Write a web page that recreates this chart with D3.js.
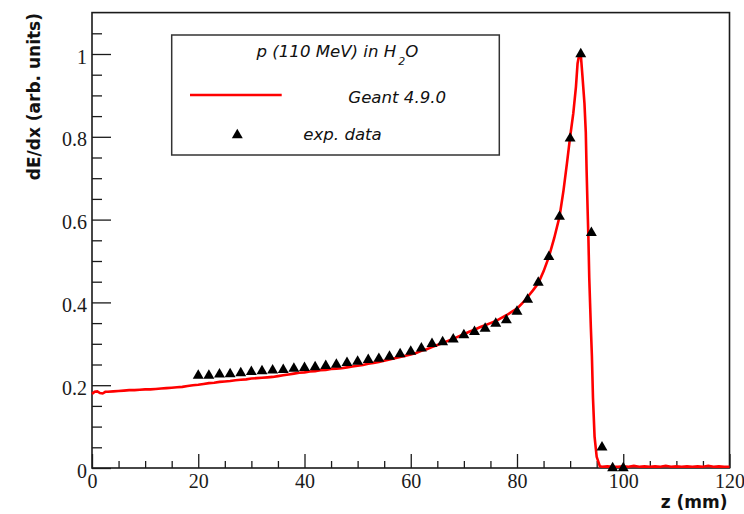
<!DOCTYPE html>
<html>
<head>
<meta charset="utf-8">
<script src="https://cdn.jsdelivr.net/npm/d3@7"></script>
<style>
  html, body { margin: 0; padding: 0; background: #fff; }
  svg { display: block; }
  .tick-label { font-family: "Liberation Serif", "Times New Roman", serif; }
</style>
</head>
<body>
<svg id="chart" width="744" height="514"></svg>
<script>
// Geant 4.9.0 simulated depth-dose profile (z in mm, dE/dx normalised)
const simZ = [
  0, 0.5, 1, 1.5, 2, 2.5, 3, 4, 5, 6, 7, 8, 9, 10, 11, 12, 13, 14, 15, 16, 17, 18, 19,
  20, 21, 22, 23, 24, 25, 26, 27, 28, 29, 30, 31, 32, 33, 34, 35, 36, 37, 38, 39,
  40, 41, 42, 43, 44, 45, 46, 47, 48, 49, 50, 51, 52, 53, 54, 55, 56, 57, 58, 59,
  60, 61, 62, 63, 64, 65, 66, 67, 68, 69, 70, 71, 72, 73, 74, 75, 76, 77, 78, 79,
  80, 81, 82, 83, 84, 85, 86, 87, 88, 88.75, 89.4, 90, 90.6, 91.1, 91.4, 91.7, 92,
  92.3, 92.7, 92.95, 93.1, 93.3, 93.45, 93.6, 93.9, 94.1, 94.3, 94.6, 95, 95.6,
  96, 97, 98, 99, 100, 101, 102, 103, 104, 105, 106, 107, 108, 109, 110,
  111, 112, 113, 114, 115, 116, 117, 118, 119, 120
];
const simDose = [
  0.179, 0.184, 0.185, 0.181, 0.180, 0.184, 0.184, 0.185, 0.186, 0.187, 0.188, 0.188, 0.189, 0.190, 0.190, 0.191, 0.192, 0.193, 0.194, 0.195, 0.196, 0.198, 0.200,
  0.201, 0.203, 0.205, 0.206, 0.208, 0.209, 0.210, 0.212, 0.213, 0.214, 0.216, 0.217, 0.218, 0.219, 0.220, 0.222, 0.224, 0.226, 0.228, 0.230,
  0.231, 0.233, 0.234, 0.236, 0.237, 0.239, 0.240, 0.241, 0.243, 0.245, 0.247, 0.249, 0.252, 0.254, 0.256, 0.259, 0.262, 0.265, 0.268, 0.271,
  0.274, 0.278, 0.283, 0.287, 0.292, 0.297, 0.302, 0.307, 0.312, 0.318, 0.323, 0.329, 0.334, 0.340, 0.345, 0.350, 0.355, 0.362, 0.369, 0.377,
  0.385, 0.398, 0.413, 0.429, 0.446, 0.475, 0.510, 0.555, 0.607, 0.670, 0.736, 0.800, 0.857, 0.921, 0.977, 0.998, 1.000,
  0.950, 0.880, 0.810, 0.720, 0.620, 0.550, 0.460, 0.340, 0.270, 0.170, 0.076, 0.027, 0.004,
  0.003, 0.004, 0.003, 0.003, 0.004, 0.003, 0.005, 0.003, 0.004, 0.003, 0.004, 0.003, 0.005, 0.003, 0.004,
  0.003, 0.004, 0.003, 0.004, 0.003, 0.005, 0.003, 0.004, 0.003, 0.003
];

// Measured depth-dose points
const expZ = [
  20, 22, 24, 26, 28, 30, 32, 34, 36, 38, 40, 42, 44, 46, 48, 50, 52, 54, 56, 58,
  60, 62, 64, 66, 68, 70, 72, 74, 76, 78, 80, 82, 84, 86, 88, 90, 92, 94, 96, 98, 100
];
const expDose = [
  0.223, 0.223, 0.226, 0.227, 0.229, 0.232, 0.234, 0.236, 0.237, 0.240, 0.242, 0.244, 0.247, 0.250, 0.254, 0.257, 0.261, 0.264, 0.269, 0.275,
  0.281, 0.289, 0.300, 0.304, 0.311, 0.321, 0.329, 0.337, 0.349, 0.357, 0.378, 0.407, 0.448, 0.510, 0.607, 0.796, 1.000, 0.568, 0.050, 0.000, 0.000
];

// Axis ticks and labels
const xMajorTicks = [0, 20, 40, 60, 80, 100, 120];
const xMinorTicks = [5, 10, 15, 25, 30, 35, 45, 50, 55, 65, 70, 75, 85, 90, 95, 105, 110, 115];
const yMajorTicks = [0, 0.2, 0.4, 0.6, 0.8, 1];
const yMinorTicks = [0.05, 0.1, 0.15, 0.25, 0.3, 0.35, 0.45, 0.5, 0.55, 0.65, 0.7, 0.75, 0.85, 0.9, 0.95, 1.05];
const xTitle = "z (mm)";
const yTitle = "dE/dx (arb. units)";
const legendTitle = ["p (110 MeV) in H", "2", "O"];
const simLabel = "Geant 4.9.0";
const expLabel = "exp. data";

const svg = d3.select("#chart");
const plot = { left: 92, right: 729.5, top: 12.6, bottom: 468 };

const x = d3.scaleLinear().domain([0, 120]).range([plot.left, plot.right]);
const y = d3.scaleLinear().domain([0, 1.1]).range([plot.bottom, plot.top]);

const axisColor = "#1a1a1a";
const sansFont = "'DejaVu Sans', Verdana, sans-serif";

// Bottom axis: major ticks with labels, minor ticks without
const xAxis = svg.append("g").attr("transform", `translate(0,${plot.bottom})`);
xAxis.call(d3.axisBottom(x).tickValues(xMajorTicks).tickSize(-14).tickPadding(0).tickFormat(d3.format("d")));
xAxis.append("g").call(d3.axisBottom(x).tickValues(xMinorTicks).tickSize(-7).tickFormat(""));
xAxis.attr("font-family", null);
xAxis.selectAll(".domain").remove();
xAxis.selectAll("line").attr("stroke", axisColor).attr("stroke-width", 1.3);
xAxis.selectAll("text")
  .attr("class", "tick-label")
  .attr("font-size", 20).attr("fill", "#1a1a1a")
  .attr("y", 20).attr("dy", 0);

// Left axis
const yAxis = svg.append("g").attr("transform", `translate(${plot.left},0)`);
yAxis.call(d3.axisLeft(y).tickValues(yMajorTicks).tickSize(-19).tickPadding(0)
  .tickFormat(d => d === 0 ? "0" : d === 1 ? "1" : d3.format(".1f")(d)));
yAxis.append("g").call(d3.axisLeft(y).tickValues(yMinorTicks).tickSize(-10).tickFormat(""));
yAxis.attr("font-family", null);
yAxis.selectAll(".domain").remove();
yAxis.selectAll("line").attr("stroke", axisColor).attr("stroke-width", 1.3);
yAxis.selectAll("text")
  .attr("class", "tick-label")
  .attr("font-size", 20).attr("fill", "#1a1a1a")
  .attr("x", -5).attr("dy", "0.45em");

// Frame
svg.append("rect")
  .attr("x", plot.left).attr("y", plot.top)
  .attr("width", plot.right - plot.left).attr("height", plot.bottom - plot.top)
  .attr("fill", "none").attr("stroke", axisColor).attr("stroke-width", 1.6);

// Axis titles
svg.append("text")
  .attr("x", 727.5).attr("y", 508)
  .attr("text-anchor", "end")
  .attr("font-family", sansFont).attr("font-weight", "bold").attr("font-size", 17)
  .attr("fill", "#111")
  .text(xTitle);

svg.append("text")
  .attr("transform", "translate(40,13) rotate(-90)")
  .attr("text-anchor", "end")
  .attr("font-family", sansFont).attr("font-weight", "bold").attr("font-size", 17)
  .attr("fill", "#111")
  .text(yTitle);

// Simulated curve
const simPoints = simZ.map((z, i) => [z, simDose[i]]);
const line = d3.line().x(d => x(d[0])).y(d => y(d[1]));
svg.append("path")
  .datum(simPoints)
  .attr("d", line)
  .attr("fill", "none")
  .attr("stroke", "#ff0000")
  .attr("stroke-width", 2.6)
  .attr("stroke-linejoin", "miter");

// Measured points as filled triangles
const tri = d3.symbol(d3.symbolTriangle, 52);
svg.append("g").selectAll("path")
  .data(expZ.map((z, i) => [z, expDose[i]]))
  .join("path")
  .attr("d", tri)
  .attr("transform", d => `translate(${x(d[0])},${y(d[1])})`)
  .attr("fill", "#000");

// Legend
const legend = svg.append("g");
legend.append("rect")
  .attr("x", 171.7).attr("y", 35).attr("width", 327.6).attr("height", 120)
  .attr("fill", "#fff").attr("stroke", "#333").attr("stroke-width", 1.5);

const titleText = legend.append("text")
  .attr("x", 256.5).attr("y", 56.5)
  .attr("font-family", sansFont).attr("font-style", "italic").attr("font-size", 16.6)
  .attr("fill", "#111");
titleText.append("tspan").text(legendTitle[0]);
titleText.append("tspan").attr("dy", 8).attr("dx", 2).attr("font-size", 11).text(legendTitle[1]);
titleText.append("tspan").attr("dy", -8).text(legendTitle[2]);

legend.append("line")
  .attr("x1", 190).attr("x2", 281.7).attr("y1", 95).attr("y2", 95)
  .attr("stroke", "#ff0000").attr("stroke-width", 2.5);
legend.append("text")
  .attr("x", 348.3).attr("y", 103)
  .attr("font-family", sansFont).attr("font-style", "italic").attr("font-size", 16.6)
  .attr("fill", "#111")
  .text(simLabel);

legend.append("path")
  .attr("d", tri)
  .attr("transform", "translate(237.3,135)")
  .attr("fill", "#000");
legend.append("text")
  .attr("x", 303.3).attr("y", 140)
  .attr("font-family", sansFont).attr("font-style", "italic").attr("font-size", 16.6)
  .attr("fill", "#111")
  .text(expLabel);
</script>
</body>
</html>
